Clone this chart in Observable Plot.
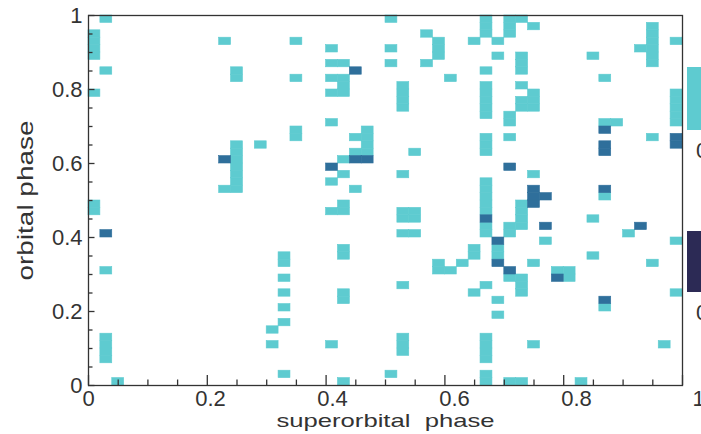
<!DOCTYPE html>
<html><head><meta charset="utf-8">
<script src="https://cdn.jsdelivr.net/npm/d3@7"></script>
<script src="https://cdn.jsdelivr.net/npm/@observablehq/plot@0.6"></script>
<style>
html,body{margin:0;padding:0;background:#fff;overflow:hidden;}
#wrap{position:relative;width:701px;height:434px;overflow:hidden;background:#fff;}
#wrap svg{position:absolute;left:0;top:0;}
.sw{position:absolute;}
.lab{position:absolute;font:22px "Liberation Sans",Arial,sans-serif;color:#333;line-height:1;}
</style></head><body><div id="wrap"></div>
<script>
// bin size in phase units (50 x 50 grid)
const binSize = 0.02;
// [superorbital bin, [orbital bins]] with count 1
const countOneBins = [
  [0,[23,24,39,44,45,46,47]],
  [1,[3,4,5,6,15,42,49]],
  [2,[0]],
  [11,[26,46]],
  [12,[26,27,28,29,30,31,32,41,42]],
  [14,[32]],
  [15,[5,7]],
  [16,[1,8,10,12,14,16,17]],
  [17,[33,34,41,46]],
  [20,[5,23,27,35,39,41,43,45]],
  [21,[0,11,12,17,18,23,24,28,30,39,40,41,43]],
  [22,[26,31,33]],
  [23,[31,32,33,34]],
  [25,[1,43,45,49]],
  [26,[4,5,6,13,20,22,23,28,37,38,39,40]],
  [27,[20,22,23,31]],
  [28,[43,47]],
  [29,[15,16,44,45,46]],
  [30,[15,41]],
  [31,[16]],
  [32,[12,17,18,46]],
  [33,[0,1,3,4,5,6,13,20,21,23,24,25,26,27,31,32,33,36,37,38,39,40,42,47,48,49]],
  [34,[9,11,17,18,44,46]],
  [35,[0,14,20,21,33,35,36,47,48,49]],
  [36,[0,12,13,14,21,22,23,24,37,38,40,42,43,44,49]],
  [37,[5,16,28,37,38,39,48]],
  [38,[19]],
  [39,[15]],
  [40,[14,15]],
  [41,[0]],
  [42,[17,22,44]],
  [43,[10,25,35,41]],
  [44,[35]],
  [45,[20]],
  [46,[45]],
  [47,[16,33,43,44,45,46,47,48]],
  [48,[5]],
  [49,[12,19,35,36,37,38,39,46]]
];
// [superorbital bin, [orbital bins]] with count 2
const countTwoBins = [
  [1,[20]],
  [11,[30]],
  [20,[29]],
  [22,[30,42]],
  [23,[30]],
  [33,[22]],
  [34,[16,19]],
  [35,[15,29]],
  [37,[24,25,26]],
  [38,[21,25]],
  [39,[14]],
  [43,[11,26,31,32,34]],
  [46,[21]],
  [49,[32,33]]
];
const countLevels = [1, 2, 3];
const countColors = ["#5ecbd0", "#2f6f9b", "#2c2a55"];
const majorTicks = [0, 0.2, 0.4, 0.6, 0.8, 1];
const majorLabels = ["0", "0.2", "0.4", "0.6", "0.8", "1"];
const minorTicks = [0.05, 0.1, 0.15, 0.25, 0.3, 0.35, 0.45, 0.5, 0.55, 0.65, 0.7, 0.75, 0.85, 0.9, 0.95];
const xLabel = "superorbital  phase";
const yLabel = "orbital phase";
const legendColors = ["#5ecbd0", "#2c2a55"];
const legendLabels = ["0", "0"];

const cells = [
  ...countOneBins.flatMap(([i, rows]) => rows.map(j => ({sx: i * binSize, oy: j * binSize, count: 1}))),
  ...countTwoBins.flatMap(([i, rows]) => rows.map(j => ({sx: i * binSize, oy: j * binSize, count: 2})))
];

const font = '"Liberation Sans", Arial, sans-serif';
const ink = "#333";
const fmtMajor = d => majorLabels[majorTicks.indexOf(d)];

const chart = Plot.plot({
  width: 701, height: 434,
  marginLeft: 88, marginRight: 19, marginTop: 15, marginBottom: 49,
  style: {fontFamily: font, fontSize: "22px", color: ink, background: "transparent", maxWidth: "none", overflow: "visible"},
  x: {domain: [0, 1]},
  y: {domain: [0, 1]},
  color: {type: "ordinal", domain: countLevels, range: countColors},
  marks: [
    Plot.rect(cells, {x1: "sx", x2: d => d.sx + binSize, y1: "oy", y2: d => d.oy + binSize, fill: "count", stroke: "count", strokeWidth: 0.6}),
    Plot.axisX({ticks: minorTicks, tickSize: -5.5, tickFormat: () => "", label: null, strokeWidth: 1.3, stroke: ink}),
    Plot.axisX({ticks: majorTicks, tickSize: -10, tickFormat: () => "", label: xLabel, labelArrow: "none", labelAnchor: "center", labelOffset: 41, fontSize: 19, strokeWidth: 1.3, stroke: ink}),
    Plot.axisY({ticks: minorTicks, tickSize: -4.5, tickFormat: () => "", label: null, strokeWidth: 1.3, stroke: ink}),
    Plot.axisY({ticks: majorTicks, tickSize: -6.5, tickPadding: 12.5, tickFormat: fmtMajor, label: yLabel, labelArrow: "none", labelAnchor: "center", labelOffset: 71, fontSize: 22, strokeWidth: 1.3, stroke: ink}),
    Plot.frame({stroke: ink, strokeWidth: 1.3})
  ]
});

// x tick labels drawn on a slightly wider x range, as in the reference
const tickLabels = Plot.plot({
  width: 717, height: 434,
  marginLeft: 88, marginRight: 19, marginTop: 15, marginBottom: 49,
  style: {fontFamily: font, fontSize: "22px", color: ink, background: "transparent", maxWidth: "none", overflow: "visible", pointerEvents: "none"},
  x: {domain: [0, 1]},
  y: {domain: [0, 1], axis: null},
  marks: [
    Plot.axisX({ticks: majorTicks, tickSize: 0, tickPadding: 5, tickFormat: fmtMajor, label: null, fontSize: 22})
  ]
});

const wrap = document.getElementById("wrap");
wrap.appendChild(chart);
wrap.appendChild(tickLabels);

// stretch the axis titles as in the reference (and drop any arrow)
function fixLabel(sel, len) {
  const t = chart.querySelector(sel);
  if (!t) return;
  t.textContent = t.textContent.replace(/[\u2190-\u2193]/g, "").replace(/\s+$/, "").replace(/^\s+/, "");
  t.setAttribute("textLength", len);
  t.setAttribute("lengthAdjust", "spacingAndGlyphs");
  t.style.whiteSpace = "pre";
}
fixLabel('[aria-label="x-axis label"] text', 218);
fixLabel('[aria-label="y-axis label"] text', 160);

// partially visible legend on the right edge
const legendTops = [67, 231];
const legendHeights = [63, 61];
legendColors.forEach((c, k) => {
  const s = document.createElement("div");
  s.className = "sw";
  Object.assign(s.style, {left: "687px", top: legendTops[k] + "px", width: "30px", height: legendHeights[k] + "px", background: c});
  wrap.appendChild(s);
  const t = document.createElement("div");
  t.className = "lab";
  t.textContent = legendLabels[k];
  Object.assign(t.style, {left: "696px", top: (legendTops[k] + legendHeights[k] + 10) + "px"});
  wrap.appendChild(t);
});
</script></body></html>
